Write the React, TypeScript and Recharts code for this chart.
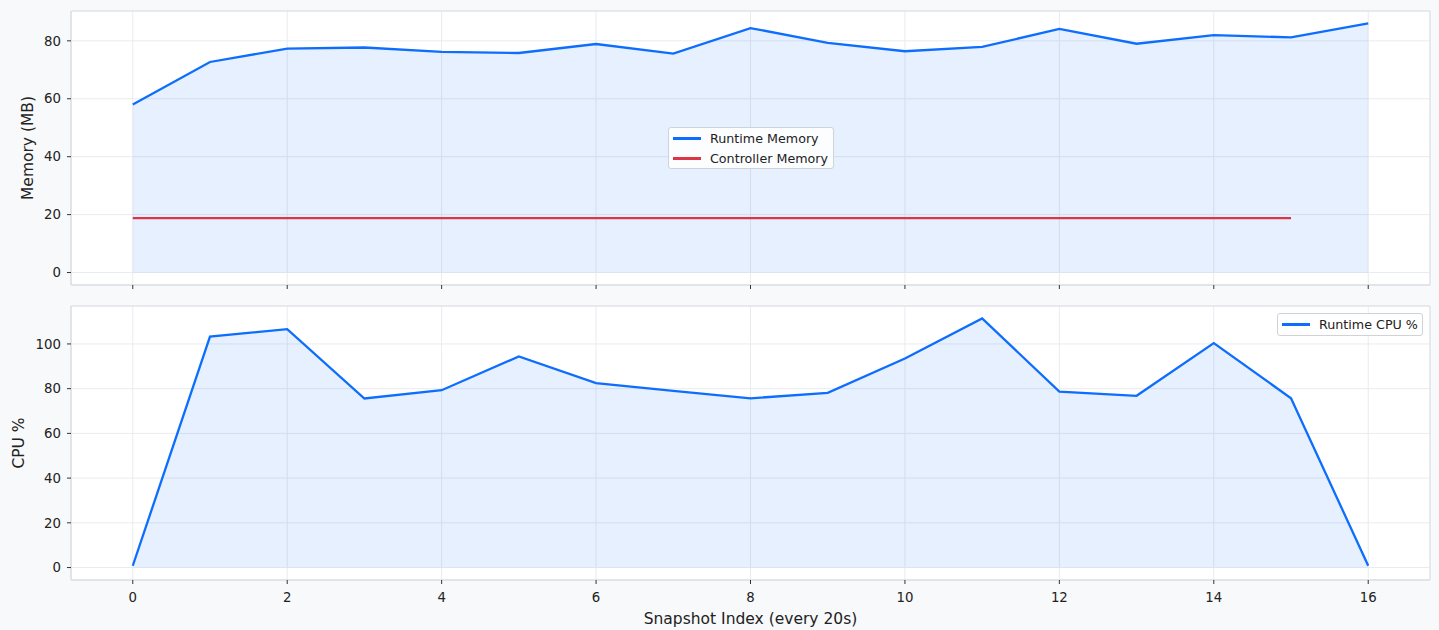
import React from 'react';
import { ComposedChart, Line, Area, XAxis, YAxis, CartesianGrid, ReferenceArea, Legend } from 'recharts';

const snapshotIndex = [0, 1, 2, 3, 4, 5, 6, 7, 8, 9, 10, 11, 12, 13, 14, 15, 16];
const runtimeMemory = [58.0, 72.7, 77.3, 77.7, 76.2, 75.8, 78.9, 75.6, 84.4, 79.3, 76.4, 77.9, 84.1, 79.0, 82.0, 81.2, 86.0];
const controllerMemory = [18.8, 18.8, 18.8, 18.8, 18.8, 18.8, 18.8, 18.8, 18.8, 18.8, 18.8, 18.8, 18.8, 18.8, 18.8, 18.8, null];
const runtimeCpu = [0.8, 103.3, 106.6, 75.6, 79.3, 94.4, 82.5, 79.0, 75.7, 78.1, 93.5, 111.4, 78.7, 76.8, 100.4, 75.7, 0.85];

const xTicks = [0, 2, 4, 6, 8, 10, 12, 14, 16];
const memTicks = [0, 20, 40, 60, 80];
const cpuTicks = [0, 20, 40, 60, 80, 100];

const xDomain: [number, number] = [-0.8, 16.8];
const memDomain: [number, number] = [-4.3, 90.3];
const cpuDomain: [number, number] = [-5.57, 116.97];

const BLUE = '#0d6efd';
const RED = '#dc3545';
const FONT = 'DejaVu Sans, sans-serif';
const BORDER = '#dcdfe3';
const GRID = '#e9ebee';
const TICK_COLOR = '#333';
const TEXT_COLOR = '#222';

const memData = snapshotIndex.map((x, i) => ({ x, runtime: runtimeMemory[i], controller: controllerMemory[i] }));
const cpuData = snapshotIndex.map((x, i) => ({ x, cpu: runtimeCpu[i] }));

const memLegend = [
  { name: 'Runtime Memory', color: BLUE },
  { name: 'Controller Memory', color: RED },
];
const cpuLegend = [{ name: 'Runtime CPU %', color: BLUE }];

const tickStyle = { fontSize: 13.3, fill: TEXT_COLOR, fontFamily: FONT };

const yLabel = (text: string, x: number) => (props: any) => {
  const vb = props.viewBox || {};
  const cy = (vb.y || 0) + (vb.height || 0) / 2;
  return (
    <text
      x={x}
      y={cy}
      transform={`rotate(-90, ${x}, ${cy})`}
      textAnchor="middle"
      dominantBaseline="central"
      fontSize={15.5}
      fontFamily={FONT}
      fill={TEXT_COLOR}
    >
      {text}
    </text>
  );
};

const xLabel = (text: string, dy: number) => (props: any) => {
  const vb = props.viewBox || {};
  const cx = (vb.x || 0) + (vb.width || 0) / 2;
  const y = (vb.y || 0) + dy;
  return (
    <text x={cx} y={y} textAnchor="middle" dominantBaseline="central" fontSize={15.5} fontFamily={FONT} fill={TEXT_COLOR}>
      {text}
    </text>
  );
};

const legendContent = (items: { name: string; color: string }[], rowH: number) => () => (
  <div
    style={{
      border: '1px solid #cfd2d6',
      borderRadius: 3,
      background: 'rgba(255,255,255,0.85)',
      padding: '0px 4px',
      fontFamily: FONT,
      fontSize: 12.7,
      color: TEXT_COLOR,
      boxSizing: 'border-box',
    }}
  >
    {items.map((it) => (
      <div key={it.name} style={{ display: 'flex', alignItems: 'center', height: rowH, whiteSpace: 'nowrap' }}>
        <div style={{ width: 28, height: 3, background: it.color, marginRight: 9 }} />
        <span>{it.name}</span>
      </div>
    ))}
  </div>
);

export default function App() {
  return (
    <div
      style={{
        position: 'absolute',
        left: 0,
        top: 0,
        width: 1439,
        height: 630,
        background: '#f8f9fa',
        fontFamily: FONT,
      }}
    >
      <ComposedChart width={1439} height={300} data={memData} margin={{ top: 11, right: 9, bottom: 0, left: 0 }}>
        <CartesianGrid fill="#ffffff" stroke={GRID} strokeWidth={1} />
        <XAxis
          dataKey="x"
          type="number"
          domain={xDomain}
          ticks={xTicks}
          allowDataOverflow
          height={15}
          axisLine={{ stroke: BORDER }}
          tickLine={{ stroke: TICK_COLOR }}
          tickSize={4}
          tickFormatter={() => ''}
          tick={tickStyle}
        />
        <YAxis
          type="number"
          domain={memDomain}
          ticks={memTicks}
          allowDataOverflow
          width={71}
          axisLine={{ stroke: BORDER }}
          tickLine={{ stroke: TICK_COLOR }}
          tickSize={4}
          tickMargin={6}
          tick={tickStyle}
          label={{ content: yLabel('Memory (MB)', 28) }}
        />
        <Area
          dataKey="runtime"
          type="linear"
          baseValue={0}
          stroke="none"
          fill={BLUE}
          fillOpacity={0.1}
          isAnimationActive={false}
          legendType="none"
        />
        <Line dataKey="runtime" type="linear" stroke={BLUE} strokeWidth={2.3} dot={false} isAnimationActive={false} />
        <Line dataKey="controller" type="linear" stroke={RED} strokeWidth={2.3} dot={false} isAnimationActive={false} />
        <ReferenceArea
          x1={xDomain[0]}
          x2={xDomain[1]}
          y1={memDomain[0]}
          y2={memDomain[1]}
          fill="none"
          stroke={BORDER}
          strokeWidth={1}
          ifOverflow="visible"
        />
        <Legend
          layout="vertical"
          align="center"
          verticalAlign="middle"
          content={legendContent(memLegend, 20)}
          wrapperStyle={{ position: 'absolute', left: 668, top: 127, width: 166 }}
        />
      </ComposedChart>
      <ComposedChart width={1439} height={330} data={cpuData} margin={{ top: 6, right: 9, bottom: 0, left: 0 }}>
        <CartesianGrid fill="#ffffff" stroke={GRID} strokeWidth={1} />
        <XAxis
          dataKey="x"
          type="number"
          domain={xDomain}
          ticks={xTicks}
          allowDataOverflow
          height={50}
          axisLine={{ stroke: BORDER }}
          tickLine={{ stroke: TICK_COLOR }}
          tickSize={4}
          tickMargin={9}
          tick={tickStyle}
          label={{ content: xLabel('Snapshot Index (every 20s)', 39) }}
        />
        <YAxis
          type="number"
          domain={cpuDomain}
          ticks={cpuTicks}
          allowDataOverflow
          width={71}
          axisLine={{ stroke: BORDER }}
          tickLine={{ stroke: TICK_COLOR }}
          tickSize={4}
          tickMargin={6}
          tick={tickStyle}
          label={{ content: yLabel('CPU %', 18.5) }}
        />
        <Area
          dataKey="cpu"
          type="linear"
          baseValue={0}
          stroke="none"
          fill={BLUE}
          fillOpacity={0.1}
          isAnimationActive={false}
          legendType="none"
        />
        <Line dataKey="cpu" type="linear" stroke={BLUE} strokeWidth={2.3} dot={false} isAnimationActive={false} />
        <ReferenceArea
          x1={xDomain[0]}
          x2={xDomain[1]}
          y1={cpuDomain[0]}
          y2={cpuDomain[1]}
          fill="none"
          stroke={BORDER}
          strokeWidth={1}
          ifOverflow="visible"
        />
        <Legend
          layout="vertical"
          align="center"
          verticalAlign="middle"
          content={legendContent(cpuLegend, 21)}
          wrapperStyle={{ position: 'absolute', left: 1277, top: 13, width: 146 }}
        />
      </ComposedChart>
    </div>
  );
}
